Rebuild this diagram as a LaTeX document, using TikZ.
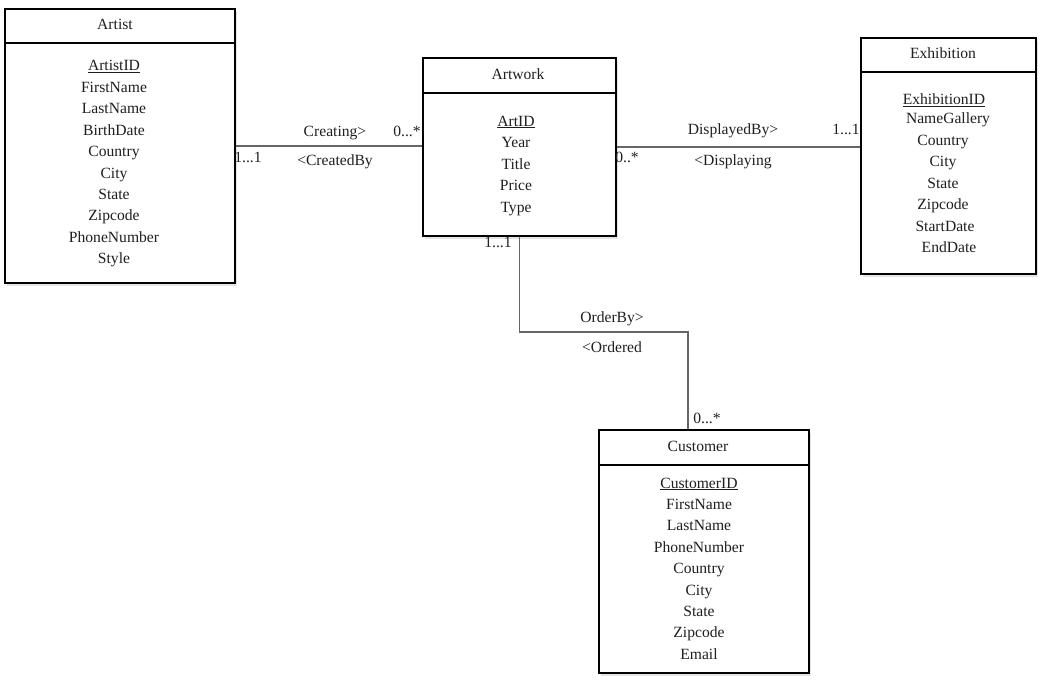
\documentclass[tikz,border=0pt]{standalone}
\usepackage{fontspec}
\setmainfont{Liberation Serif}
\usetikzlibrary{shadows}
\begin{document}
\begin{tikzpicture}[x=1pt,y=-1pt,
  entity/.style={draw=black, line width=1.8pt, fill=white, rectangle, inner sep=0pt,
    drop shadow={shadow xshift=2pt, shadow yshift=-3pt, opacity=0.15, fill=black!70}},
  divider/.style={draw=black, line width=1.8pt},
  txt/.style={anchor=base, inner sep=0pt, font=\fontsize{15.6}{18}\selectfont, text=black!88},
  conn/.style={draw=black!60, line width=1.5pt},
]
\useasboundingbox (0,0) rectangle (1043,682);

% ---------- entities ----------
\node[entity, anchor=north west, minimum width=230pt, minimum height=274pt] (artist) at (4,8) {};
\draw[divider] (4,43) -- (234,43);
\node[entity, anchor=north west, minimum width=193pt, minimum height=178pt] (artwork) at (422,57) {};
\draw[divider] (422,93) -- (615,93);
\node[entity, anchor=north west, minimum width=175pt, minimum height=236pt] (exhibition) at (860,37) {};
\draw[divider] (860,72) -- (1035,72);
\node[entity, anchor=north west, minimum width=210pt, minimum height=243pt] (customer) at (598,429) {};
\draw[divider] (598,465) -- (808,465);

% ---------- titles ----------
\node[txt] (artistT) at (115,30) {Artist};
\node[txt] (artworkT) at (518,80) {Artwork};
\node[txt] (exhibitionT) at (943,59) {Exhibition};
\node[txt] (customerT) at (698,451) {Customer};

% ---------- Artist attributes ----------
\node[txt] (ar1) at (114,71) {\underline{ArtistID}};
\foreach \t [count=\i from 2] in {FirstName,LastName,BirthDate,Country,City,State,Zipcode,PhoneNumber,Style}
  \node[txt] (ar\i) at (114,{71+21.4*(\i-1)}) {\t};

% ---------- Artwork attributes ----------
\node[txt] (aw1) at (516,126) {\underline{ArtID}};
\foreach \t [count=\i from 2] in {Year,Title,Price,Type}
  \node[txt] (aw\i) at (516,{126+21.5*(\i-1)}) {\t};

% ---------- Exhibition attributes ----------
\node[txt] (ex1) at (944,105) {\underline{ExhibitionID}};
\node[txt] (ex2) at (948,124) {NameGallery};
\node[txt] (ex3) at (943,145) {Country};
\node[txt] (ex4) at (943,166.5) {City};
\node[txt] (ex5) at (943,188) {State};
\node[txt] (ex6) at (943,209) {Zipcode};
\node[txt] (ex7) at (945,231) {StartDate};
\node[txt] (ex8) at (949,252) {EndDate};

% ---------- Customer attributes ----------
\node[txt] (cu1) at (699,488) {\underline{CustomerID}};
\foreach \t [count=\i from 2] in {FirstName,LastName,PhoneNumber,Country,City,State,Zipcode,Email}
  \node[txt] (cu\i) at (699,{488+21.4*(\i-1)}) {\t};

% ---------- connectors ----------
\draw[conn] (artist.east) -- (artist.east -| artwork.west);
\draw[conn] (artwork.east) -- (artwork.east -| exhibition.west);
\coordinate (bend) at (0,332);
\coordinate (custIn) at ([xshift=-16pt]customer.north);
\draw[conn] (artwork.south) -- (artwork.south |- bend) -| (custIn);

% ---------- connector labels ----------
\node[txt] (l1) at (335,136) {Creating>};
\node[txt] (l2) at (407,136) {0...*};
\node[txt] (l3) at (248,162) {1...1};
\node[txt] (l4) at (335,165) {<CreatedBy};
\node[txt] (l5) at (733,135) {DisplayedBy>};
\node[txt] (l6) at (846,135) {1...1};
\node[txt] (l7) at (627,162) {0..*};
\node[txt] (l8) at (733,165) {<Displaying};
\node[txt] (l9) at (498,247) {1...1};
\node[txt] (l10) at (612,322) {OrderBy>};
\node[txt] (l11) at (612,352) {<Ordered};
\node[txt] (l12) at (707,423) {0...*};
\end{tikzpicture}
\end{document}
